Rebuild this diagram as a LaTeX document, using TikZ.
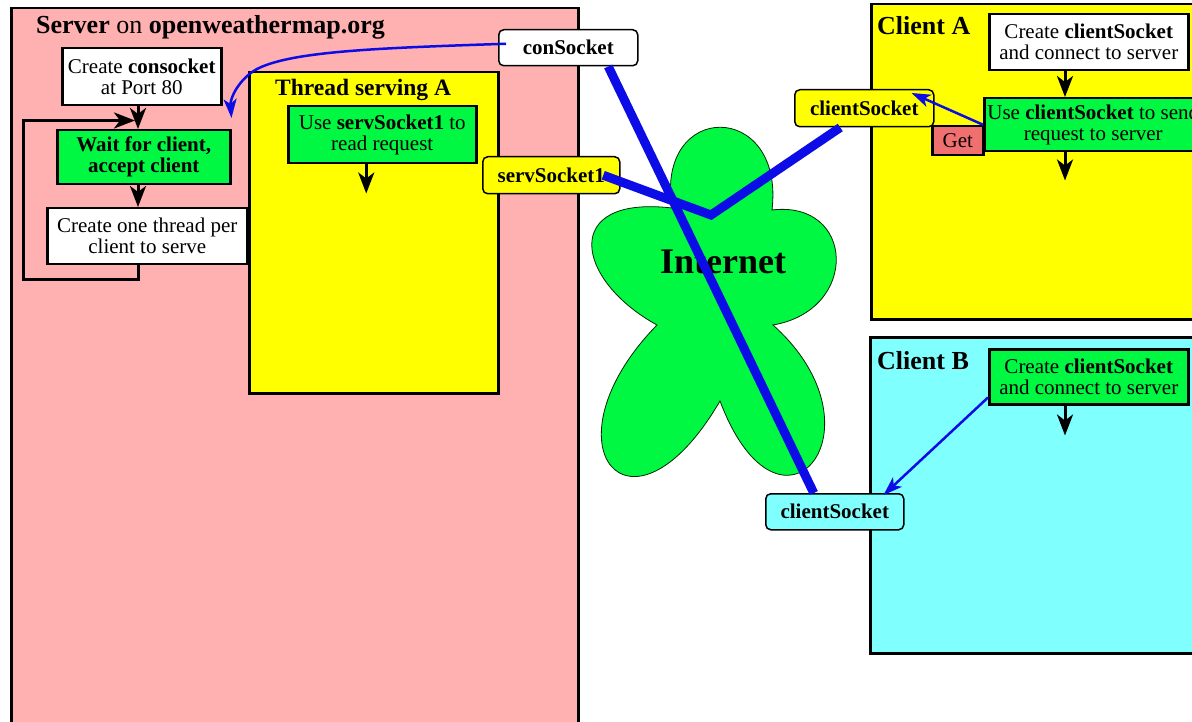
\documentclass[tikz,border=0pt]{standalone}
\usepackage{fontspec}
\setmainfont{Liberation Serif}
\usetikzlibrary{arrows.meta}

\definecolor{serverpink}{RGB}{255,176,176}
\definecolor{threadyellow}{RGB}{255,255,0}
\definecolor{stepgreen}{RGB}{0,248,66}
\definecolor{clientcyan}{RGB}{128,255,255}
\definecolor{sockblue}{RGB}{12,12,230}
\definecolor{getred}{RGB}{240,112,112}

\newcommand\bodytext{\fontsize{21}{21}\selectfont}
\newcommand\titletext{\fontsize{26}{28}\selectfont\bfseries}

\begin{document}
\begin{tikzpicture}[x=1pt,y=-1pt,
  area/.style={draw=black,line width=2.5pt,anchor=north west,inner sep=0pt},
  stepbox/.style={draw=black,line width=2.5pt,anchor=north west,inner sep=0pt,
                  align=center,font=\bodytext},
  sock/.style={draw=black,line width=1.5pt,rounded corners=5pt,anchor=north west,
               inner sep=0pt,font=\bodytext\bfseries},
  heading/.style={anchor=base west,inner sep=0pt},
  flow/.style={draw=black,line width=3pt,-{Stealth[length=21pt,width=16pt,inset=6pt]}},
  wire/.style={draw=sockblue,line width=9pt},
  link/.style={draw=sockblue,line width=2.5pt,-{Stealth[length=19pt,width=13pt,inset=5pt]}},
]
\useasboundingbox (0,0) rectangle (1192,722);

% ---------------- server side ----------------
\node[area,fill=serverpink,minimum width=567pt,minimum height=740pt] (server) at (10,7) {};
\node[heading,font=\titletext] (servertitle) at (36,34) {Server \textmd{on} openweathermap.org};

\node[stepbox,fill=white,minimum width=159pt,minimum height=57pt] (cons) at (61,47)
  {Create \textbf{consocket}\\at Port 80};
\node[stepbox,fill=stepgreen,minimum width=173pt,minimum height=54pt,font=\bodytext\bfseries] (wait) at (56,129)
  {Wait for client,\\accept client};
\node[stepbox,fill=white,minimum width=200pt,minimum height=56pt] (spawn) at (46,207)
  {Create one thread per\\client to serve};

\node[area,fill=threadyellow,minimum width=249pt,minimum height=321pt] (thread) at (248,71) {};
\node[heading,font=\fontsize{23.5}{25}\selectfont\bfseries] (threadtitle) at (275,96) {Thread serving A};
\node[stepbox,fill=stepgreen,minimum width=188pt,minimum height=57pt] (readreq) at (287,105)
  {Use \textbf{servSocket1} to\\read request};

% server flow
\coordinate (sx) at (138,0);
\draw[flow] (cons.south -| sx) -- (wait.north -| sx);
\draw[flow] (wait.south -| sx) -- (spawn.north -| sx);
\draw[flow] (spawn.south -| sx) -- ++(0,14) -- ++(-115,0) -- ++(0,-159) -- ++(112,0);
\draw[flow] ([xshift=-16pt]readreq.south) -- ++(0,29);

% ---------------- client A ----------------
\node[area,fill=threadyellow,minimum width=340pt,minimum height=315pt] (clientA) at (870,3) {};
\node[heading,font=\titletext] (clientAtitle) at (877,35) {Client A};
\node[stepbox,fill=white,minimum width=199pt,minimum height=56pt] (createA) at (988,13)
  {Create \textbf{clientSocket}\\and connect to server};
\node[stepbox,fill=getred,minimum width=51pt,minimum height=29pt] (getbox) at (931,125) {Get};
\node[stepbox,fill=stepgreen,minimum width=218pt,minimum height=53pt] (useA) at (983,97)
  {Use \textbf{clientSocket} to send\\request to server};

\coordinate (ax) at (1065,0);
\draw[flow] (createA.south -| ax) -- (useA.north -| ax);
\draw[flow] (useA.south -| ax) -- ++(0,28);

% ---------------- client B ----------------
\node[area,fill=clientcyan,minimum width=340pt,minimum height=316pt] (clientB) at (869,336) {};
\node[heading,font=\titletext] (clientBtitle) at (877,369) {Client B};
\node[stepbox,fill=stepgreen,minimum width=199pt,minimum height=55pt] (createB) at (988,348)
  {Create \textbf{clientSocket}\\and connect to server};
\draw[flow] (createB.south -| ax) -- ++(0,30);

% ---------------- the Internet ----------------
\draw[fill=stepgreen,draw=black!85!green,line width=0.8pt]
  (672,208) .. controls (560,195) and (575,280) .. (657,325)
            .. controls (540,445) and (630,555) .. (720,401)
            .. controls (780,560) and (890,430) .. (773,325)
            .. controls (860,310) and (855,200) .. (772,210)
            .. controls (785,100) and (655,100) .. (672,208) -- cycle;
\node[heading,font=\fontsize{36}{36}\selectfont\bfseries] (inet) at (660,273) {Internet};

% ---------------- sockets ----------------
\node[sock,fill=white,minimum width=139pt,minimum height=36pt] (consock) at (498,29) {conSocket};
\node[sock,fill=threadyellow,minimum width=137pt,minimum height=37pt] (servs) at (482,156) {servSocket1};
\node[sock,fill=threadyellow,minimum width=139pt,minimum height=37pt] (csA) at (794,89) {clientSocket};
\node[sock,fill=clientcyan,minimum width=138pt,minimum height=36pt] (csB) at (765,493) {clientSocket};

% connections through the Internet
\coordinate (vpt) at (711,215);
\draw[wire] ([xshift=40pt]consock.south) -- ([xshift=-21pt]csB.north);
\draw[wire] ([xshift=52pt]servs.center) -- (vpt) -- ([xshift=-24pt]csA.south);

% socket references
\coordinate (bend) at (257,69);
\draw[link] ([xshift=8pt,yshift=4pt]consock.west) .. controls (380,48) and (292,51) .. (bend)
  .. controls (239,79) and (230,98) .. ([yshift=11pt]wait.north east);
\draw[link] (useA.west) -- ([xshift=-23pt,yshift=-4pt]csA.north east);
\draw[link] ([yshift=8pt]createB.south west) -- ([xshift=-21pt,yshift=-2pt]csB.north east);
\end{tikzpicture}
\end{document}
